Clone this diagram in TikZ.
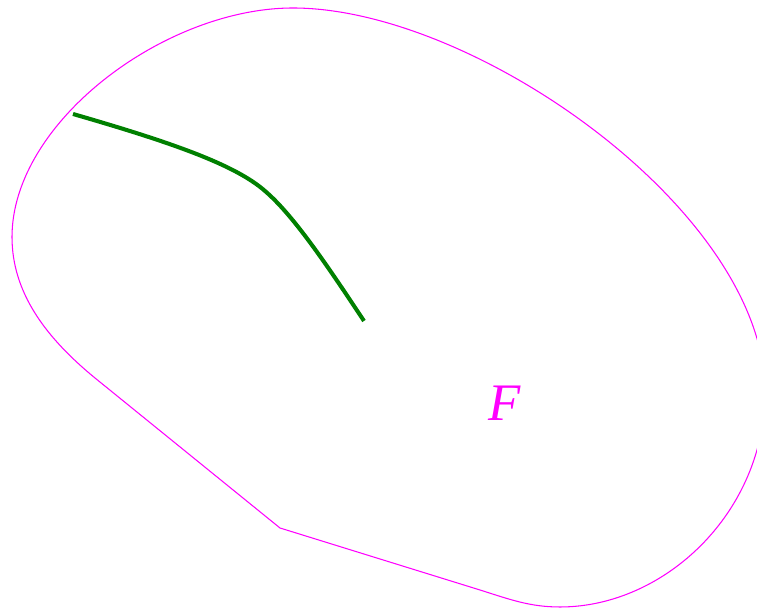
\documentclass[tikz,border=0pt]{standalone}
\usepackage{fontspec}
\setmainfont{Liberation Serif}
\usepackage{xcolor}
\usepackage{tikz}
\definecolor{fmag}{RGB}{255,0,255}
\definecolor{fgreen}{RGB}{0,128,0}

\begin{document}
\begin{tikzpicture}
\clip (0,0) rectangle (15.14,12.24);
\draw[line width=0.6pt, fmag] (5.6,1.68) -- (1.9,4.68)
  .. controls (0.9,5.5) and (0.24,6.4) .. (0.24,7.5)
  .. controls (0.24,9.8) and (3.3,12.08) .. (5.86,12.08)
  .. controls (9.5,12.08) and (15.3,8.0) .. (15.3,4.4)
  .. controls (15.3,2.0) and (13.3,0.1) .. (11.2,0.1)
  .. controls (10.6,0.1) and (10.2,0.25) .. (9.6,0.44) -- cycle;
\draw[line width=2.3pt, fgreen] (1.46,9.96)
  .. controls (3.4,9.4) and (4.7,8.95) .. (5.3,8.42)
  .. controls (5.85,7.95) and (6.5,7.0) .. (7.28,5.82);
\node[fmag, font=\fontsize{30}{32}\selectfont\itshape] (F) at (10.1,4.18) {F};
\end{tikzpicture}
\end{document}
